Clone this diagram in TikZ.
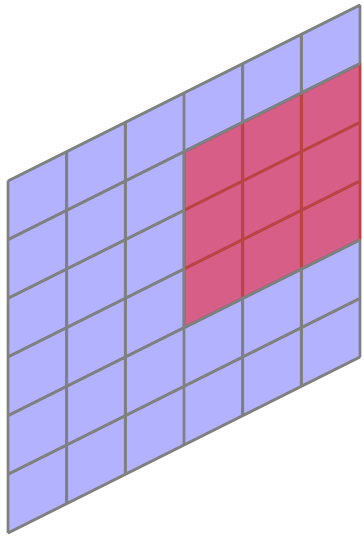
\documentclass[tikz,border=0pt]{standalone}
\usepackage{tikz}

\begin{document}
\begin{tikzpicture}[
    gridline/.style={draw=gray, line width=1.4pt},
    patch/.style={fill=red, opacity=0.47}
  ]
  \useasboundingbox (-0.136, -0.068) rectangle (6.068, 9.085);

  \begin{scope}[yslant=0.5]
    % Input grid
    \fill[blue!30] (0, 0) rectangle (6, 6);
    \draw[gridline] (0, 0) grid (6, 6);

    % Highlighted patch
    \fill[patch] (3, 2) rectangle (6.025, 5);
    \draw[gridline] (6, 5) -- (3, 5) -- (3, 2) -- (6, 2);
  \end{scope}
\end{tikzpicture}
\end{document}
